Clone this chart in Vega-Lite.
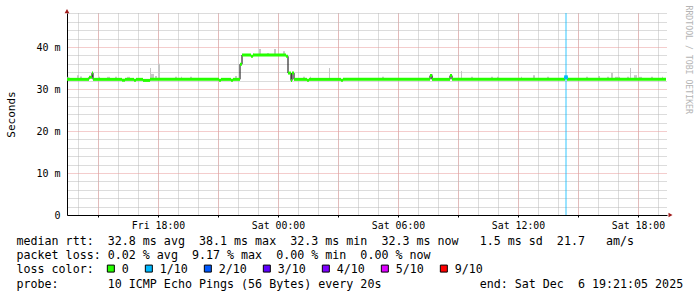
{
  "$schema": "https://vega.github.io/schema/vega-lite/v6.json",
  "width": 600,
  "height": 202,
  "autosize": {"type": "none"},
  "padding": {"left": 67, "top": 13, "right": 30, "bottom": 82},
  "background": "#ffffff",
  "config": {
    "view": {"stroke": null},
    "font": "DejaVu Sans Mono",
    "axis": {"labelFont": "DejaVu Sans Mono", "titleFont": "DejaVu Sans Mono", "titleFontWeight": "normal", "labelColor": "#000000", "titleColor": "#000000"}
  },
  "datasets": {
    "median": [
      {"t": "2025-12-05T13:27:00Z", "t2": "2025-12-05T14:33:00Z", "ms": 32.3, "loss": "0"},
      {"t": "2025-12-05T14:33:00Z", "t2": "2025-12-05T14:42:00Z", "ms": 32.8, "loss": "0"},
      {"t": "2025-12-05T14:42:00Z", "t2": "2025-12-05T14:45:00Z", "ms": 33.8, "loss": "0"},
      {"t": "2025-12-05T14:45:00Z", "t2": "2025-12-05T16:12:00Z", "ms": 32.3, "loss": "0"},
      {"t": "2025-12-05T16:12:00Z", "t2": "2025-12-05T16:21:00Z", "ms": 32.1, "loss": "0"},
      {"t": "2025-12-05T16:21:00Z", "t2": "2025-12-05T16:48:00Z", "ms": 32.3, "loss": "0"},
      {"t": "2025-12-05T16:48:00Z", "t2": "2025-12-05T16:54:00Z", "ms": 32.1, "loss": "0"},
      {"t": "2025-12-05T16:54:00Z", "t2": "2025-12-05T17:15:00Z", "ms": 32.3, "loss": "0"},
      {"t": "2025-12-05T17:15:00Z", "t2": "2025-12-05T17:36:00Z", "ms": 32.05, "loss": "0"},
      {"t": "2025-12-05T17:36:00Z", "t2": "2025-12-05T21:03:00Z", "ms": 32.3, "loss": "0"},
      {"t": "2025-12-05T21:03:00Z", "t2": "2025-12-05T21:09:00Z", "ms": 32.1, "loss": "0"},
      {"t": "2025-12-05T21:09:00Z", "t2": "2025-12-05T21:39:00Z", "ms": 32.3, "loss": "0"},
      {"t": "2025-12-05T21:39:00Z", "t2": "2025-12-05T21:45:00Z", "ms": 32.1, "loss": "0"},
      {"t": "2025-12-05T21:45:00Z", "t2": "2025-12-05T22:06:00Z", "ms": 32.3, "loss": "0"},
      {"t": "2025-12-05T22:06:00Z", "t2": "2025-12-05T22:12:00Z", "ms": 35.9, "loss": "0"},
      {"t": "2025-12-05T22:12:00Z", "t2": "2025-12-05T22:39:00Z", "ms": 38.1, "loss": "0"},
      {"t": "2025-12-05T22:39:00Z", "t2": "2025-12-05T22:45:00Z", "ms": 37.8, "loss": "0"},
      {"t": "2025-12-05T22:45:00Z", "t2": "2025-12-06T00:24:00Z", "ms": 38.1, "loss": "0"},
      {"t": "2025-12-06T00:24:00Z", "t2": "2025-12-06T00:30:00Z", "ms": 37.8, "loss": "0"},
      {"t": "2025-12-06T00:30:00Z", "t2": "2025-12-06T00:39:00Z", "ms": 33.8, "loss": "0"},
      {"t": "2025-12-06T00:39:00Z", "t2": "2025-12-06T00:42:00Z", "ms": 32.0, "loss": "0"},
      {"t": "2025-12-06T00:42:00Z", "t2": "2025-12-06T00:48:00Z", "ms": 33.8, "loss": "0"},
      {"t": "2025-12-06T00:48:00Z", "t2": "2025-12-06T01:27:00Z", "ms": 32.3, "loss": "0"},
      {"t": "2025-12-06T01:27:00Z", "t2": "2025-12-06T01:33:00Z", "ms": 32.1, "loss": "0"},
      {"t": "2025-12-06T01:33:00Z", "t2": "2025-12-06T03:09:00Z", "ms": 32.3, "loss": "0"},
      {"t": "2025-12-06T03:09:00Z", "t2": "2025-12-06T03:15:00Z", "ms": 32.1, "loss": "0"},
      {"t": "2025-12-06T03:15:00Z", "t2": "2025-12-06T07:36:00Z", "ms": 32.3, "loss": "0"},
      {"t": "2025-12-06T07:36:00Z", "t2": "2025-12-06T07:42:00Z", "ms": 33.2, "loss": "0"},
      {"t": "2025-12-06T07:42:00Z", "t2": "2025-12-06T08:36:00Z", "ms": 32.3, "loss": "0"},
      {"t": "2025-12-06T08:36:00Z", "t2": "2025-12-06T08:42:00Z", "ms": 33.2, "loss": "0"},
      {"t": "2025-12-06T08:42:00Z", "t2": "2025-12-06T14:21:00Z", "ms": 32.3, "loss": "0"},
      {"t": "2025-12-06T14:21:00Z", "t2": "2025-12-06T14:27:00Z", "ms": 32.8, "loss": "1/10"},
      {"t": "2025-12-06T14:27:00Z", "t2": "2025-12-06T19:24:00Z", "ms": 32.3, "loss": "0"},
      {"t": "2025-12-06T19:24:00Z", "t2": "2025-12-06T19:24:00Z", "ms": 32.3, "loss": "0"}
    ],
    "smoke": [
      {"t": "2025-12-05T13:28:00Z", "t2": "2025-12-05T13:34:00Z", "lo": 32.3, "hi": 32.9},
      {"t": "2025-12-05T13:57:00Z", "t2": "2025-12-05T14:03:00Z", "lo": 32.3, "hi": 33.3},
      {"t": "2025-12-05T14:06:00Z", "t2": "2025-12-05T14:12:00Z", "lo": 32.3, "hi": 33.0},
      {"t": "2025-12-05T15:00:00Z", "t2": "2025-12-05T15:06:00Z", "lo": 32.3, "hi": 32.9},
      {"t": "2025-12-05T15:27:00Z", "t2": "2025-12-05T15:36:00Z", "lo": 32.3, "hi": 32.9},
      {"t": "2025-12-05T15:51:00Z", "t2": "2025-12-05T15:57:00Z", "lo": 32.3, "hi": 32.9},
      {"t": "2025-12-05T16:27:00Z", "t2": "2025-12-05T16:36:00Z", "lo": 32.3, "hi": 32.9},
      {"t": "2025-12-05T17:36:00Z", "t2": "2025-12-05T17:39:00Z", "lo": 32.3, "hi": 35.0},
      {"t": "2025-12-05T17:39:00Z", "t2": "2025-12-05T17:48:00Z", "lo": 32.3, "hi": 33.6},
      {"t": "2025-12-05T17:51:00Z", "t2": "2025-12-05T17:57:00Z", "lo": 32.3, "hi": 33.1},
      {"t": "2025-12-05T18:00:00Z", "t2": "2025-12-05T18:06:00Z", "lo": 32.3, "hi": 36.0},
      {"t": "2025-12-05T18:51:00Z", "t2": "2025-12-05T18:57:00Z", "lo": 32.3, "hi": 32.9},
      {"t": "2025-12-05T19:09:00Z", "t2": "2025-12-05T19:12:00Z", "lo": 32.3, "hi": 32.9},
      {"t": "2025-12-05T19:36:00Z", "t2": "2025-12-05T19:42:00Z", "lo": 32.3, "hi": 32.9},
      {"t": "2025-12-05T21:51:00Z", "t2": "2025-12-05T21:57:00Z", "lo": 32.3, "hi": 33.1},
      {"t": "2025-12-05T22:45:00Z", "t2": "2025-12-05T22:48:00Z", "lo": 38.1, "hi": 38.5},
      {"t": "2025-12-05T23:03:00Z", "t2": "2025-12-05T23:09:00Z", "lo": 38.1, "hi": 39.5},
      {"t": "2025-12-05T23:27:00Z", "t2": "2025-12-05T23:33:00Z", "lo": 38.1, "hi": 38.6},
      {"t": "2025-12-05T23:48:00Z", "t2": "2025-12-05T23:54:00Z", "lo": 38.1, "hi": 39.5},
      {"t": "2025-12-06T00:15:00Z", "t2": "2025-12-06T00:21:00Z", "lo": 38.1, "hi": 39.0},
      {"t": "2025-12-06T01:15:00Z", "t2": "2025-12-06T01:21:00Z", "lo": 32.3, "hi": 32.9},
      {"t": "2025-12-06T01:36:00Z", "t2": "2025-12-06T01:39:00Z", "lo": 32.3, "hi": 32.9},
      {"t": "2025-12-06T02:33:00Z", "t2": "2025-12-06T02:36:00Z", "lo": 32.3, "hi": 35.0},
      {"t": "2025-12-06T05:12:00Z", "t2": "2025-12-06T05:18:00Z", "lo": 32.3, "hi": 32.9},
      {"t": "2025-12-06T07:39:00Z", "t2": "2025-12-06T07:45:00Z", "lo": 32.3, "hi": 33.6},
      {"t": "2025-12-06T09:09:00Z", "t2": "2025-12-06T09:12:00Z", "lo": 32.3, "hi": 34.3},
      {"t": "2025-12-06T09:39:00Z", "t2": "2025-12-06T09:45:00Z", "lo": 32.3, "hi": 32.9},
      {"t": "2025-12-06T10:39:00Z", "t2": "2025-12-06T10:45:00Z", "lo": 32.3, "hi": 32.9},
      {"t": "2025-12-06T10:57:00Z", "t2": "2025-12-06T11:03:00Z", "lo": 32.3, "hi": 32.9},
      {"t": "2025-12-06T12:09:00Z", "t2": "2025-12-06T12:12:00Z", "lo": 32.3, "hi": 32.9},
      {"t": "2025-12-06T12:45:00Z", "t2": "2025-12-06T12:51:00Z", "lo": 32.3, "hi": 33.3},
      {"t": "2025-12-06T13:27:00Z", "t2": "2025-12-06T13:33:00Z", "lo": 32.3, "hi": 32.9},
      {"t": "2025-12-06T15:24:00Z", "t2": "2025-12-06T15:30:00Z", "lo": 32.3, "hi": 32.9},
      {"t": "2025-12-06T16:00:00Z", "t2": "2025-12-06T16:06:00Z", "lo": 32.3, "hi": 33.1},
      {"t": "2025-12-06T16:27:00Z", "t2": "2025-12-06T16:33:00Z", "lo": 32.3, "hi": 32.9},
      {"t": "2025-12-06T16:39:00Z", "t2": "2025-12-06T16:45:00Z", "lo": 32.3, "hi": 33.8},
      {"t": "2025-12-06T16:51:00Z", "t2": "2025-12-06T17:06:00Z", "lo": 32.3, "hi": 32.9},
      {"t": "2025-12-06T17:27:00Z", "t2": "2025-12-06T17:33:00Z", "lo": 32.3, "hi": 32.9},
      {"t": "2025-12-06T17:36:00Z", "t2": "2025-12-06T17:39:00Z", "lo": 32.3, "hi": 35.0},
      {"t": "2025-12-06T17:48:00Z", "t2": "2025-12-06T17:57:00Z", "lo": 32.3, "hi": 33.3},
      {"t": "2025-12-06T18:00:00Z", "t2": "2025-12-06T18:12:00Z", "lo": 32.3, "hi": 32.9},
      {"t": "2025-12-06T18:39:00Z", "t2": "2025-12-06T18:45:00Z", "lo": 32.3, "hi": 32.9},
      {"t": "2025-12-06T19:12:00Z", "t2": "2025-12-06T19:15:00Z", "lo": 32.3, "hi": 32.9}
    ],
    "loss": [
      {"t": "2025-12-06T14:24:00Z", "ms": 32.8, "loss": "1/10"}
    ]
  },
  "layer": [
    {
      "data": {"name": "smoke"},
      "mark": {"type": "rect", "color": "#c6c6c6"},
      "encoding": {
        "x": {"field": "t", "type": "temporal",
          "scale": {"type": "utc", "nice": false, "domain": [{"year": 2025, "month": 12, "date": 5, "hours": 13, "minutes": 27, "utc": true}, {"year": 2025, "month": 12, "date": 6, "hours": 19, "minutes": 27, "utc": true}]},
          "axis": {"orient": "bottom", "values": [1764943200000, 1764946800000, 1764950400000, 1764954000000, 1764957600000, 1764961200000, 1764964800000, 1764968400000, 1764972000000, 1764975600000, 1764979200000, 1764982800000, 1764986400000, 1764990000000, 1764993600000, 1764997200000, 1765000800000, 1765004400000, 1765008000000, 1765011600000, 1765015200000, 1765018800000, 1765022400000, 1765026000000, 1765029600000, 1765033200000, 1765036800000, 1765040400000, 1765044000000, 1765047600000], "grid": true, "gridColor": "#b8b8b8", "gridDash": [1, 1], "gridWidth": 1, "labels": false, "ticks": false, "domain": false,
            "title": "loss\u00a0color:", "titleFontSize": 11.67, "titleAlign": "left", "titleBaseline": "top", "titleAnchor": "start", "titleX": -51, "titleY": 48}},
        "x2": {"field": "t2"},
        "y": {"field": "lo", "type": "quantitative",
          "scale": {"domain": [0, 48.1], "nice": false, "zero": false},
          "axis": {"orient": "left", "values": [2, 4, 6, 8, 12, 14, 16, 18, 22, 24, 26, 28, 32, 34, 36, 38, 42, 44, 46, 48], "grid": true, "gridColor": "#b8b8b8", "gridDash": [1, 1], "gridWidth": 1, "labels": false, "ticks": false, "domain": false, "title": null}},
        "y2": {"field": "hi"}
      }
    },
    {
      "data": {"name": "loss"},
      "mark": {"type": "rule", "color": "#00b8ff", "opacity": 0.4, "strokeWidth": 2},
      "encoding": {
        "x": {"field": "t", "type": "temporal",
          "scale": {"type": "utc", "nice": false, "domain": [{"year": 2025, "month": 12, "date": 5, "hours": 13, "minutes": 27, "utc": true}, {"year": 2025, "month": 12, "date": 6, "hours": 19, "minutes": 27, "utc": true}]},
          "axis": null}
      }
    },
    {
      "data": {"name": "median"},
      "mark": {"type": "line", "interpolate": "step-after", "color": "#000000", "strokeWidth": 1},
      "encoding": {
        "x": {"field": "t", "type": "temporal",
          "scale": {"type": "utc", "nice": false, "domain": [{"year": 2025, "month": 12, "date": 5, "hours": 13, "minutes": 27, "utc": true}, {"year": 2025, "month": 12, "date": 6, "hours": 19, "minutes": 27, "utc": true}]},
          "axis": {"orient": "bottom", "grid": false, "labels": false, "ticks": false, "domain": false,
            "title": "probe:\u00a0\u00a0\u00a0\u00a0\u00a0\u00a0\u00a010\u00a0ICMP\u00a0Echo\u00a0Pings\u00a0(56\u00a0Bytes)\u00a0every\u00a020s\u00a0\u00a0\u00a0\u00a0\u00a0\u00a0\u00a0\u00a0\u00a0\u00a0\u00a0\u00a0\u00a0\u00a0end:\u00a0Sat\u00a0Dec\u00a0\u00a06\u00a019:21:05\u00a02025",
            "titleFontSize": 11.67, "titleAlign": "left", "titleBaseline": "top", "titleAnchor": "start", "titleX": -51, "titleY": 63}},
        "y": {"field": "ms", "type": "quantitative",
          "scale": {"domain": [0, 48.1], "nice": false, "zero": false},
          "axis": {"orient": "right", "grid": false, "labels": false, "ticks": false, "domain": false, "title": "RRDTOOL / TOBI OETIKER", "titleAngle": 90, "titleX": 20.5, "titleY": -8, "titleAlign": "left", "titleBaseline": "middle", "titleFontSize": 8.2, "titleColor": "#b4b4b4"}}
      }
    },
    {
      "data": {"name": "median"},
      "mark": {"type": "rule", "strokeWidth": 3, "color": "#26ff00"},
      "encoding": {
        "x": {"field": "t", "type": "temporal",
          "scale": {"type": "utc", "nice": false, "domain": [{"year": 2025, "month": 12, "date": 5, "hours": 13, "minutes": 27, "utc": true}, {"year": 2025, "month": 12, "date": 6, "hours": 19, "minutes": 27, "utc": true}]},
          "axis": {"orient": "bottom", "values": [1764946800000, 1764957600000, 1764968400000, 1764979200000, 1764990000000, 1765000800000, 1765011600000, 1765022400000, 1765033200000, 1765044000000], "grid": true, "gridColor": "#e89a9a", "gridDash": [1, 1], "gridWidth": 1, "ticks": true, "tickSize": 2, "tickColor": "#000000", "domain": true, "domainColor": "#000000", "domainWidth": 1,
            "labelExpr": "utchours(datum.value) % 6 == 0 ? utcFormat(datum.value, '%a %H:%M') : ''",
            "labelFontSize": 9.85, "labelPadding": 3, "labelOverlap": false, "labelFlush": false,
            "title": ["median\u00a0rtt:\u00a0\u00a032.8\u00a0ms\u00a0avg\u00a0\u00a038.1\u00a0ms\u00a0max\u00a0\u00a032.3\u00a0ms\u00a0min\u00a0\u00a032.3\u00a0ms\u00a0now\u00a0\u00a0\u00a01.5\u00a0ms\u00a0sd\u00a0\u00a021.7\u00a0\u00a0\u00a0am/s",
                      "packet\u00a0loss:\u00a00.02\u00a0%\u00a0avg\u00a0\u00a09.17\u00a0%\u00a0max\u00a0\u00a00.00\u00a0%\u00a0min\u00a0\u00a00.00\u00a0%\u00a0now"],
            "titleFontSize": 11.67, "titleLineHeight": 14, "titleAlign": "left", "titleBaseline": "top", "titleAnchor": "start", "titleX": -51, "titleY": 20}},
        "x2": {"field": "t2"},
        "y": {"field": "ms", "type": "quantitative",
          "scale": {"domain": [0, 48.1], "nice": false, "zero": false},
          "axis": {"orient": "left", "values": [0, 10, 20, 30, 40], "grid": true, "gridColor": "#e89a9a", "gridDash": [1, 1], "gridWidth": 1, "ticks": false, "domain": true, "domainColor": "#000000", "domainWidth": 1,
            "labelExpr": "datum.value == 0 ? '0' : datum.value + ' m'", "labelFontSize": 10, "labelPadding": 7,
            "title": "Seconds", "titleFontSize": 11, "titleAngle": -90, "titleX": -56, "titleY": 101, "titleAlign": "center", "titleBaseline": "middle"}}
      }
    },
    {
      "data": {"name": "loss"},
      "mark": {"type": "square", "size": 14, "opacity": 1, "strokeWidth": 0},
      "encoding": {
        "x": {"field": "t", "type": "temporal",
          "scale": {"type": "utc", "nice": false, "domain": [{"year": 2025, "month": 12, "date": 5, "hours": 13, "minutes": 27, "utc": true}, {"year": 2025, "month": 12, "date": 6, "hours": 19, "minutes": 27, "utc": true}]},
          "axis": null},
        "y": {"field": "ms", "type": "quantitative",
          "scale": {"domain": [0, 48.1], "nice": false, "zero": false},
          "axis": null},
        "color": {"field": "loss", "type": "nominal",
          "scale": {"domain": ["0", "1/10", "2/10", "3/10", "4/10", "5/10", "9/10"], "range": ["#26ff00", "#00b8ff", "#0059ff", "#5e00ff", "#7e00ff", "#dd00ff", "#ff0000"]},
          "legend": {"orient": "none", "legendX": 38, "legendY": 249.5, "direction": "horizontal", "title": null, "symbolType": "square", "symbolSize": 49, "symbolStrokeColor": "#000000", "symbolStrokeWidth": 1, "symbolOpacity": 1, "labelFont": "DejaVu Sans Mono", "labelFontSize": 11.67, "labelColor": "#000000", "labelOffset": 5, "columnPadding": 14, "padding": 0}}
      }
    },
    {
      "data": {"values": [{}]},
      "mark": {"type": "point", "shape": "triangle-up", "filled": true, "size": 22, "color": "#a01c1c", "opacity": 1},
      "encoding": {
        "x": {"datum": {"year": 2025, "month": 12, "date": 5, "hours": 13, "minutes": 27, "utc": true}, "type": "temporal",
          "scale": {"type": "utc", "nice": false, "domain": [{"year": 2025, "month": 12, "date": 5, "hours": 13, "minutes": 27, "utc": true}, {"year": 2025, "month": 12, "date": 6, "hours": 19, "minutes": 27, "utc": true}]},
          "axis": null},
        "y": {"datum": 48.55, "type": "quantitative", "scale": {"domain": [0, 48.1], "nice": false, "zero": false}, "axis": null}
      }
    },
    {
      "data": {"values": [{}]},
      "mark": {"type": "point", "shape": "triangle-right", "filled": true, "size": 22, "color": "#a01c1c", "opacity": 1},
      "encoding": {
        "x": {"datum": {"year": 2025, "month": 12, "date": 6, "hours": 19, "minutes": 37, "seconds": 30, "utc": true}, "type": "temporal",
          "scale": {"type": "utc", "nice": false, "domain": [{"year": 2025, "month": 12, "date": 5, "hours": 13, "minutes": 27, "utc": true}, {"year": 2025, "month": 12, "date": 6, "hours": 19, "minutes": 27, "utc": true}]},
          "axis": null},
        "y": {"datum": 0, "type": "quantitative", "scale": {"domain": [0, 48.1], "nice": false, "zero": false}, "axis": null}
      }
    }
  ],
  "resolve": {"axis": {"x": "independent", "y": "independent"}}
}
